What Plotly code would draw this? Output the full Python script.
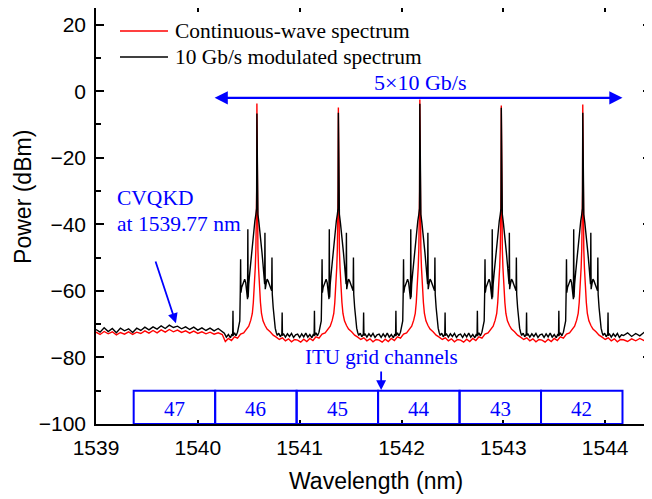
import plotly.graph_objects as go

# ---------------- data ----------------
CHANNEL_CENTERS = [1540.58, 1541.38, 1542.18, 1542.98, 1543.78]
CW_PEAKS = [-3.7, -4.9, -2.5, -4.3, -4.0]
MOD_PEAKS = [-6.7, -6.5, -3.8, -5.0, -6.5]

# baseline to the left of the channels (CVQKD region)
LEFT_WL = [1539.00, 1539.04, 1539.08, 1539.12, 1539.16, 1539.20, 1539.24, 1539.28,
           1539.32, 1539.36, 1539.40, 1539.44, 1539.48, 1539.52, 1539.56, 1539.60,
           1539.64, 1539.68, 1539.72, 1539.76, 1539.80, 1539.84, 1539.88, 1539.92,
           1539.96, 1540.00, 1540.04, 1540.08, 1540.12, 1540.16, 1540.20, 1540.24]
LEFT_MOD = [-71.6, -72.4, -71.1, -72.2, -71.3, -72.6, -71.2, -72.0,
            -71.4, -72.5, -71.2, -71.9, -70.9, -71.7, -70.8, -71.5,
            -70.5, -71.3, -70.3, -71.0, -70.6, -71.4, -70.8, -71.6,
            -70.9, -71.8, -71.1, -71.9, -71.2, -72.0, -71.3, -72.1]
LEFT_CW = [-72.4, -73.1, -72.2, -72.9, -72.3, -73.2, -72.5, -73.0,
           -72.3, -73.1, -72.4, -72.8, -72.0, -72.7, -71.9, -72.6,
           -71.7, -72.4, -71.6, -72.3, -71.8, -72.5, -72.0, -72.7,
           -72.1, -72.8, -72.3, -72.9, -72.4, -73.0, -72.6, -73.1]

# spectrum shape around each channel (offset from channel centre in nm, power in dBm)
# None marks the carrier peak, taken from MOD_PEAKS / CW_PEAKS
MOD_OFFSETS = [-0.40, -0.38, -0.36, -0.34, -0.32, -0.30, -0.28, -0.26, -0.245, -0.238,
               -0.235, -0.232, -0.22, -0.205, -0.19, -0.178, -0.168, -0.163, -0.160, -0.157,
               -0.15, -0.14, -0.13, -0.12, -0.11, -0.10, -0.092, -0.089, -0.086, -0.08,
               -0.07, -0.06, -0.05, -0.04, -0.03, -0.02, -0.01, -0.003, 0.0, 0.003,
               0.01, 0.02, 0.03, 0.04, 0.05, 0.06, 0.07, 0.076, 0.079, 0.082,
               0.09, 0.10, 0.11, 0.12, 0.13, 0.14, 0.145, 0.148, 0.151, 0.16,
               0.17, 0.18, 0.19, 0.20, 0.215, 0.23, 0.245, 0.248, 0.251, 0.26,
               0.28, 0.30, 0.32, 0.34, 0.36, 0.38]
MOD_LEVELS = [-73.0, -74.0, -72.9, -73.8, -72.7, -73.9, -73.1, -74.1, -73.0, -73.6,
              -66.0, -73.4, -72.6, -73.5, -72.4, -71.0, -69.0, -60.0, -50.5, -60.5,
              -59.0, -58.0, -57.0, -56.5, -57.5, -59.5, -62.5, -41.5, -62.0, -58.0,
              -54.5, -51.0, -47.5, -44.5, -41.5, -39.0, -37.0, -35.2, None, -35.2,
              -37.0, -39.5, -42.0, -45.0, -48.5, -52.0, -55.5, -58.0, -42.5, -59.5,
              -58.0, -56.5, -57.0, -58.0, -58.5, -59.5, -60.0, -50.0, -61.0, -65.0,
              -69.0, -71.2, -72.5, -73.4, -72.7, -73.8, -73.0, -66.5, -73.5, -72.8,
              -73.9, -72.9, -73.7, -72.8, -74.0, -73.2]

CW_OFFSETS = [-0.40, -0.37, -0.34, -0.31, -0.28, -0.25, -0.22, -0.19, -0.16, -0.13,
              -0.10, -0.08, -0.06, -0.045, -0.035, -0.025, -0.016, -0.010, -0.005, -0.002,
              0.0, 0.002, 0.005, 0.010, 0.016, 0.025, 0.035, 0.045, 0.06, 0.08,
              0.10, 0.13, 0.16, 0.19, 0.22, 0.25, 0.28, 0.31, 0.34, 0.37]
CW_LEVELS = [-74.8, -75.4, -74.5, -75.2, -74.3, -74.9, -73.8, -74.2, -73.0, -72.6,
             -71.2, -70.6, -68.8, -66.8, -63.5, -59.0, -53.0, -47.5, -40.5, -30.0,
             None, -30.0, -40.5, -47.5, -53.0, -59.0, -63.5, -66.8, -69.0, -70.4,
             -71.5, -72.3, -73.3, -73.9, -74.6, -74.1, -75.0, -74.4, -75.3, -74.6]

# baseline to the right of the last channel
RIGHT_WL = [1544.18, 1544.22, 1544.26, 1544.30, 1544.34, 1544.38, 1544.42, 1544.45]
RIGHT_MOD = [-73.4, -72.6, -73.7, -72.8, -73.5, -72.5, -73.2, -72.8]
RIGHT_CW = [-74.7, -75.2, -74.4, -75.0, -74.3, -74.9, -74.5, -74.2]

# ITU grid
ITU_EDGES = [1539.37, 1540.17, 1540.97, 1541.77, 1542.57, 1543.37, 1544.17]
ITU_LABELS = ["47", "46", "45", "44", "43", "42"]
ITU_TOP, ITU_BOTTOM = -90, -100

X_TICKS = [1539, 1540, 1541, 1542, 1543, 1544]
Y_TICKS = [-100, -80, -60, -40, -20, 0, 20]

SERIES_NAMES = ["Continuous-wave spectrum", "10 Gb/s modulated spectrum"]
SERIES_COLORS = ["#ff0000", "#000000"]

BLUE = "#0000ff"
SERIF = "Liberation Serif, Times New Roman, serif"
SANS = "Liberation Sans, Arial, sans-serif"


def build(left_wl, left_lv, offsets, levels, peaks, right_wl, right_lv):
    xs, ys = list(left_wl), list(left_lv)
    for c, p in zip(CHANNEL_CENTERS, peaks):
        for o, v in zip(offsets, levels):
            w = round(c + o, 4)
            if w <= xs[-1]:
                continue
            xs.append(w)
            ys.append(p if v is None else v)
    for w, v in zip(right_wl, right_lv):
        if w > xs[-1]:
            xs.append(w)
            ys.append(v)
    return xs, ys


cw_x, cw_y = build(LEFT_WL, LEFT_CW, CW_OFFSETS, CW_LEVELS, CW_PEAKS, RIGHT_WL, RIGHT_CW)
mod_x, mod_y = build(LEFT_WL, LEFT_MOD, MOD_OFFSETS, MOD_LEVELS, MOD_PEAKS, RIGHT_WL, RIGHT_MOD)

fig = go.Figure()
fig.add_trace(go.Scatter(x=cw_x, y=cw_y, mode="lines", name=SERIES_NAMES[0],
                         line=dict(color=SERIES_COLORS[0], width=1.4)))
fig.add_trace(go.Scatter(x=mod_x, y=mod_y, mode="lines", name=SERIES_NAMES[1],
                         line=dict(color=SERIES_COLORS[1], width=1.4)))

shapes = []
for i in range(len(ITU_LABELS)):
    shapes.append(dict(type="rect", xref="x", yref="y", x0=ITU_EDGES[i], x1=ITU_EDGES[i + 1],
                       y0=ITU_BOTTOM, y1=ITU_TOP, line=dict(color=BLUE, width=2)))

annotations = []
for i, lab in enumerate(ITU_LABELS):
    annotations.append(dict(x=(ITU_EDGES[i] + ITU_EDGES[i + 1]) / 2, y=-95.5, xref="x", yref="y",
                            text=lab, showarrow=False, font=dict(family=SERIF, size=21, color=BLUE)))

# legend drawn as line samples plus text (paper coordinates)
LEGEND_ROWS_Y = [0.9447, 0.8822]
for name, color, ly in zip(SERIES_NAMES, SERIES_COLORS, LEGEND_ROWS_Y):
    shapes.append(dict(type="line", xref="paper", yref="paper", x0=0.0432, x1=0.1297,
                       y0=ly, y1=ly, line=dict(color=color, width=1.4)))
    annotations.append(dict(x=0.1387, y=ly, xref="paper", yref="paper", xanchor="left",
                            yanchor="middle", text=name, showarrow=False,
                            font=dict(family=SERIF, size=21.4, color="black")))

annotations += [
    dict(x=1541.8, y=-80, xref="x", yref="y", text="ITU grid channels", showarrow=False,
         font=dict(family=SERIF, size=21, color=BLUE)),
    dict(x=1541.80, y=-89.8, ax=1541.80, ay=-83.8, xref="x", yref="y", axref="x", ayref="y",
         text="", showarrow=True, arrowhead=2, arrowsize=1.1, arrowwidth=1.8, arrowcolor=BLUE,
         standoff=0),
    dict(x=1542.18, y=2.5, xref="x", yref="y", text="5×10 Gb/s", showarrow=False,
         font=dict(family=SERIF, size=22, color=BLUE)),
    dict(x=1544.17, y=-2, ax=1540.15, ay=-2, xref="x", yref="y", axref="x", ayref="y",
         text="", showarrow=True, arrowhead=2, arrowside="end+start", arrowsize=1.2,
         arrowwidth=2.2, arrowcolor=BLUE, standoff=0, startstandoff=0, startarrowhead=2,
         startarrowsize=1.2),
    dict(x=1539.187, y=-32.1, xref="x", yref="y", text="CVQKD", showarrow=False, xanchor="left",
         font=dict(family=SERIF, size=21.5, color=BLUE)),
    dict(x=1539.187, y=-39.9, xref="x", yref="y", text="at 1539.77 nm", showarrow=False,
         xanchor="left", font=dict(family=SERIF, size=21.5, color=BLUE)),
    dict(x=1539.785, y=-69.7, ax=1539.58, ay=-50.7, xref="x", yref="y", axref="x", ayref="y",
         text="", showarrow=True, arrowhead=2, arrowsize=1.1, arrowwidth=1.8, arrowcolor=BLUE,
         standoff=0),
    # axis titles
    dict(x=0.5045, y=-0.137, xref="paper", yref="paper", xanchor="center", yanchor="middle",
         text="Wavelength (nm)", showarrow=False, font=dict(family=SANS, size=23, color="black")),
    dict(x=-0.1315, y=0.546, xref="paper", yref="paper", xanchor="center", yanchor="middle",
         text="Power (dBm)", showarrow=False, textangle=-90,
         font=dict(family=SANS, size=23, color="black")),
]

# the page body adds an 8 px offset on the left and top; size the figure to compensate
fig.update_layout(
    width=644, height=491,
    margin=dict(l=88, r=1, t=0, b=75, autoexpand=False),
    paper_bgcolor="white", plot_bgcolor="white",
    template="none",
    shapes=shapes, annotations=annotations,
    showlegend=False,
    xaxis=dict(range=[1539, 1544.45], tickvals=X_TICKS, ticks="inside", ticklen=4, tickwidth=1.5,
               tickcolor="black", showline=True, linecolor="black", linewidth=1.5,
               mirror="allticks", showgrid=False, zeroline=False, automargin=False,
               tickfont=dict(family=SANS, size=21, color="black"), ticklabelstandoff=4),
    yaxis=dict(range=[-100, 25], tickvals=Y_TICKS, ticks="inside", ticklen=8, tickwidth=1.5,
               tickcolor="black", showline=True, linecolor="black", linewidth=1.5,
               mirror="allticks", showgrid=False, zeroline=False, automargin=False,
               tickfont=dict(family=SANS, size=21, color="black"), ticklabelstandoff=4,
               minor=dict(ticks="inside", ticklen=5, tickwidth=1.5, tickcolor="black", dtick=10,
                          tick0=0, showgrid=False)),
)

fig.write_html("out.html")
